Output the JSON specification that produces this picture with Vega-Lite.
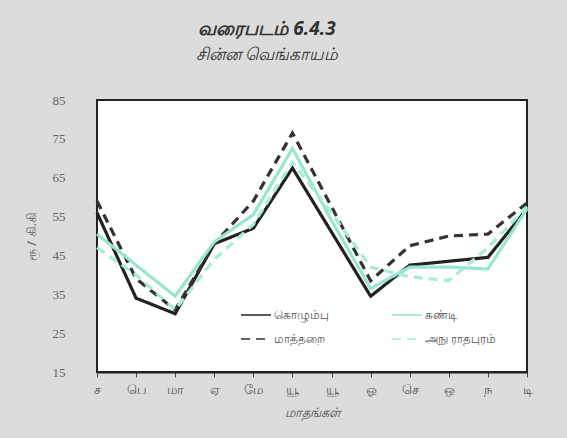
{
  "$schema": "https://vega.github.io/schema/vega-lite/v6.json",
  "width": 430,
  "height": 272,
  "autosize": "none",
  "padding": {"left": 97, "top": 100, "right": 40, "bottom": 66},
  "background": "#dcdcdc",
  "title": {
    "text": "வரைபடம்  6.4.3",
    "subtitle": "சின்ன  வெங்காயம்",
    "anchor": "middle",
    "dx": -45,
    "offset": 31,
    "font": "Noto Sans",
    "fontSize": 19,
    "fontWeight": "bold",
    "fontStyle": "italic",
    "color": "#333",
    "subtitleFont": "Noto Sans",
    "subtitleFontSize": 17,
    "subtitleFontStyle": "italic",
    "subtitleColor": "#333",
    "subtitlePadding": 8
  },
  "config": {
    "view": {"stroke": "#222", "strokeWidth": 2, "fill": "white"}
  },
  "data": {
    "values": [
      {"m": 1, "city": "கொழும்பு", "v": 56},
      {"m": 2, "city": "கொழும்பு", "v": 34},
      {"m": 3, "city": "கொழும்பு", "v": 30},
      {"m": 4, "city": "கொழும்பு", "v": 48},
      {"m": 5, "city": "கொழும்பு", "v": 52},
      {"m": 6, "city": "கொழும்பு", "v": 67.5},
      {"m": 7, "city": "கொழும்பு", "v": 51},
      {"m": 8, "city": "கொழும்பு", "v": 34.5},
      {"m": 9, "city": "கொழும்பு", "v": 42.5},
      {"m": 10, "city": "கொழும்பு", "v": 43.5},
      {"m": 11, "city": "கொழும்பு", "v": 44.5},
      {"m": 12, "city": "கொழும்பு", "v": 57},
      {"m": 1, "city": "மாத்தறை", "v": 59},
      {"m": 2, "city": "மாத்தறை", "v": 39},
      {"m": 3, "city": "மாத்தறை", "v": 31},
      {"m": 4, "city": "மாத்தறை", "v": 48},
      {"m": 5, "city": "மாத்தறை", "v": 59},
      {"m": 6, "city": "மாத்தறை", "v": 76.5},
      {"m": 7, "city": "மாத்தறை", "v": 57.5},
      {"m": 8, "city": "மாத்தறை", "v": 38.5},
      {"m": 9, "city": "மாத்தறை", "v": 47.5},
      {"m": 10, "city": "மாத்தறை", "v": 50},
      {"m": 11, "city": "மாத்தறை", "v": 50.5},
      {"m": 12, "city": "மாத்தறை", "v": 58.5},
      {"m": 1, "city": "கண்டி", "v": 50.5},
      {"m": 2, "city": "கண்டி", "v": 42.5},
      {"m": 3, "city": "கண்டி", "v": 34.5},
      {"m": 4, "city": "கண்டி", "v": 48.5},
      {"m": 5, "city": "கண்டி", "v": 55.5},
      {"m": 6, "city": "கண்டி", "v": 72.5},
      {"m": 7, "city": "கண்டி", "v": 54},
      {"m": 8, "city": "கண்டி", "v": 36.5},
      {"m": 9, "city": "கண்டி", "v": 42},
      {"m": 10, "city": "கண்டி", "v": 42},
      {"m": 11, "city": "கண்டி", "v": 41.5},
      {"m": 12, "city": "கண்டி", "v": 57},
      {"m": 1, "city": "அநு ராதபுரம்", "v": 47},
      {"m": 2, "city": "அநு ராதபுரம்", "v": 40},
      {"m": 3, "city": "அநு ராதபுரம்", "v": 31},
      {"m": 4, "city": "அநு ராதபுரம்", "v": 44},
      {"m": 5, "city": "அநு ராதபுரம்", "v": 53},
      {"m": 6, "city": "அநு ராதபுரம்", "v": 69},
      {"m": 7, "city": "அநு ராதபுரம்", "v": 56},
      {"m": 8, "city": "அநு ராதபுரம்", "v": 42},
      {"m": 9, "city": "அநு ராதபுரம்", "v": 39.5},
      {"m": 10, "city": "அநு ராதபுரம்", "v": 38.5},
      {"m": 11, "city": "அநு ராதபுரம்", "v": 47},
      {"m": 12, "city": "அநு ராதபுரம்", "v": 57.5}
    ]
  },
  "mark": {"type": "line", "strokeWidth": 3.2},
  "encoding": {
    "x": {
      "field": "m",
      "type": "quantitative",
      "scale": {"domain": [1, 12], "nice": false, "zero": false},
      "axis": {
        "values": [1, 2, 3, 4, 5, 6, 7, 8, 9, 10, 11, 12],
        "labelExpr": "['ச','பெ','மா','ஏ','மே','யூ','யூ','ஓ','செ','ஒ','ந','டி'][datum.value - 1]",
        "title": "மாதங்கள்",
        "titleFont": "Noto Sans",
        "titleFontSize": 13,
        "titleFontWeight": "normal",
        "titleFontStyle": "italic",
        "titleColor": "#555",
        "titlePadding": 10,
        "labelFont": "Noto Sans",
        "labelFontSize": 13,
        "labelColor": "#555",
        "labelPadding": 6,
        "grid": false,
        "domainColor": "#222",
        "domainWidth": 2,
        "tickColor": "#444",
        "tickSize": 5,
        "labelFlush": false
      }
    },
    "y": {
      "field": "v",
      "type": "quantitative",
      "scale": {"domain": [15, 85], "nice": false, "zero": false},
      "axis": {
        "values": [15, 25, 35, 45, 55, 65, 75, 85],
        "title": "ரூ / கி.கி",
        "titleFont": "Noto Sans",
        "titleFontSize": 13,
        "titleFontWeight": "normal",
        "titleColor": "#666",
        "titlePadding": 14,
        "labelFont": "Liberation Serif",
        "labelFontSize": 13,
        "labelColor": "#666",
        "labelPadding": 32,
        "ticks": false,
        "grid": false,
        "domain": false,
        "labelFlush": false
      }
    },
    "color": {
      "field": "city",
      "type": "nominal",
      "scale": {
        "domain": ["கொழும்பு", "மாத்தறை", "கண்டி", "அநு ராதபுரம்"],
        "range": ["#222222", "#333333", "#98e6d2", "#a6ecd9"]
      },
      "legend": {
        "title": null,
        "orient": "none",
        "legendX": 143,
        "legendY": 199,
        "columns": 2,
        "columnPadding": 60,
        "rowPadding": 2,
        "symbolType": "stroke",
        "symbolSize": 900,
        "symbolStrokeWidth": 1.5,
        "labelFont": "Noto Sans",
        "labelFontSize": 12,
        "labelColor": "#555",
        "labelOffset": 2
      }
    },
    "strokeDash": {
      "field": "city",
      "type": "nominal",
      "scale": {
        "domain": ["கொழும்பு", "மாத்தறை", "கண்டி", "அநு ராதபுரம்"],
        "range": [[1, 0], [9, 6], [1, 0], [9, 6]]
      },
      "legend": {
        "title": null,
        "orient": "none",
        "legendX": 143,
        "legendY": 199,
        "columns": 2,
        "columnPadding": 60,
        "rowPadding": 2,
        "symbolType": "stroke",
        "symbolSize": 900,
        "symbolStrokeWidth": 1.5,
        "labelFont": "Noto Sans",
        "labelFontSize": 12,
        "labelColor": "#555",
        "labelOffset": 2
      }
    }
  }
}
